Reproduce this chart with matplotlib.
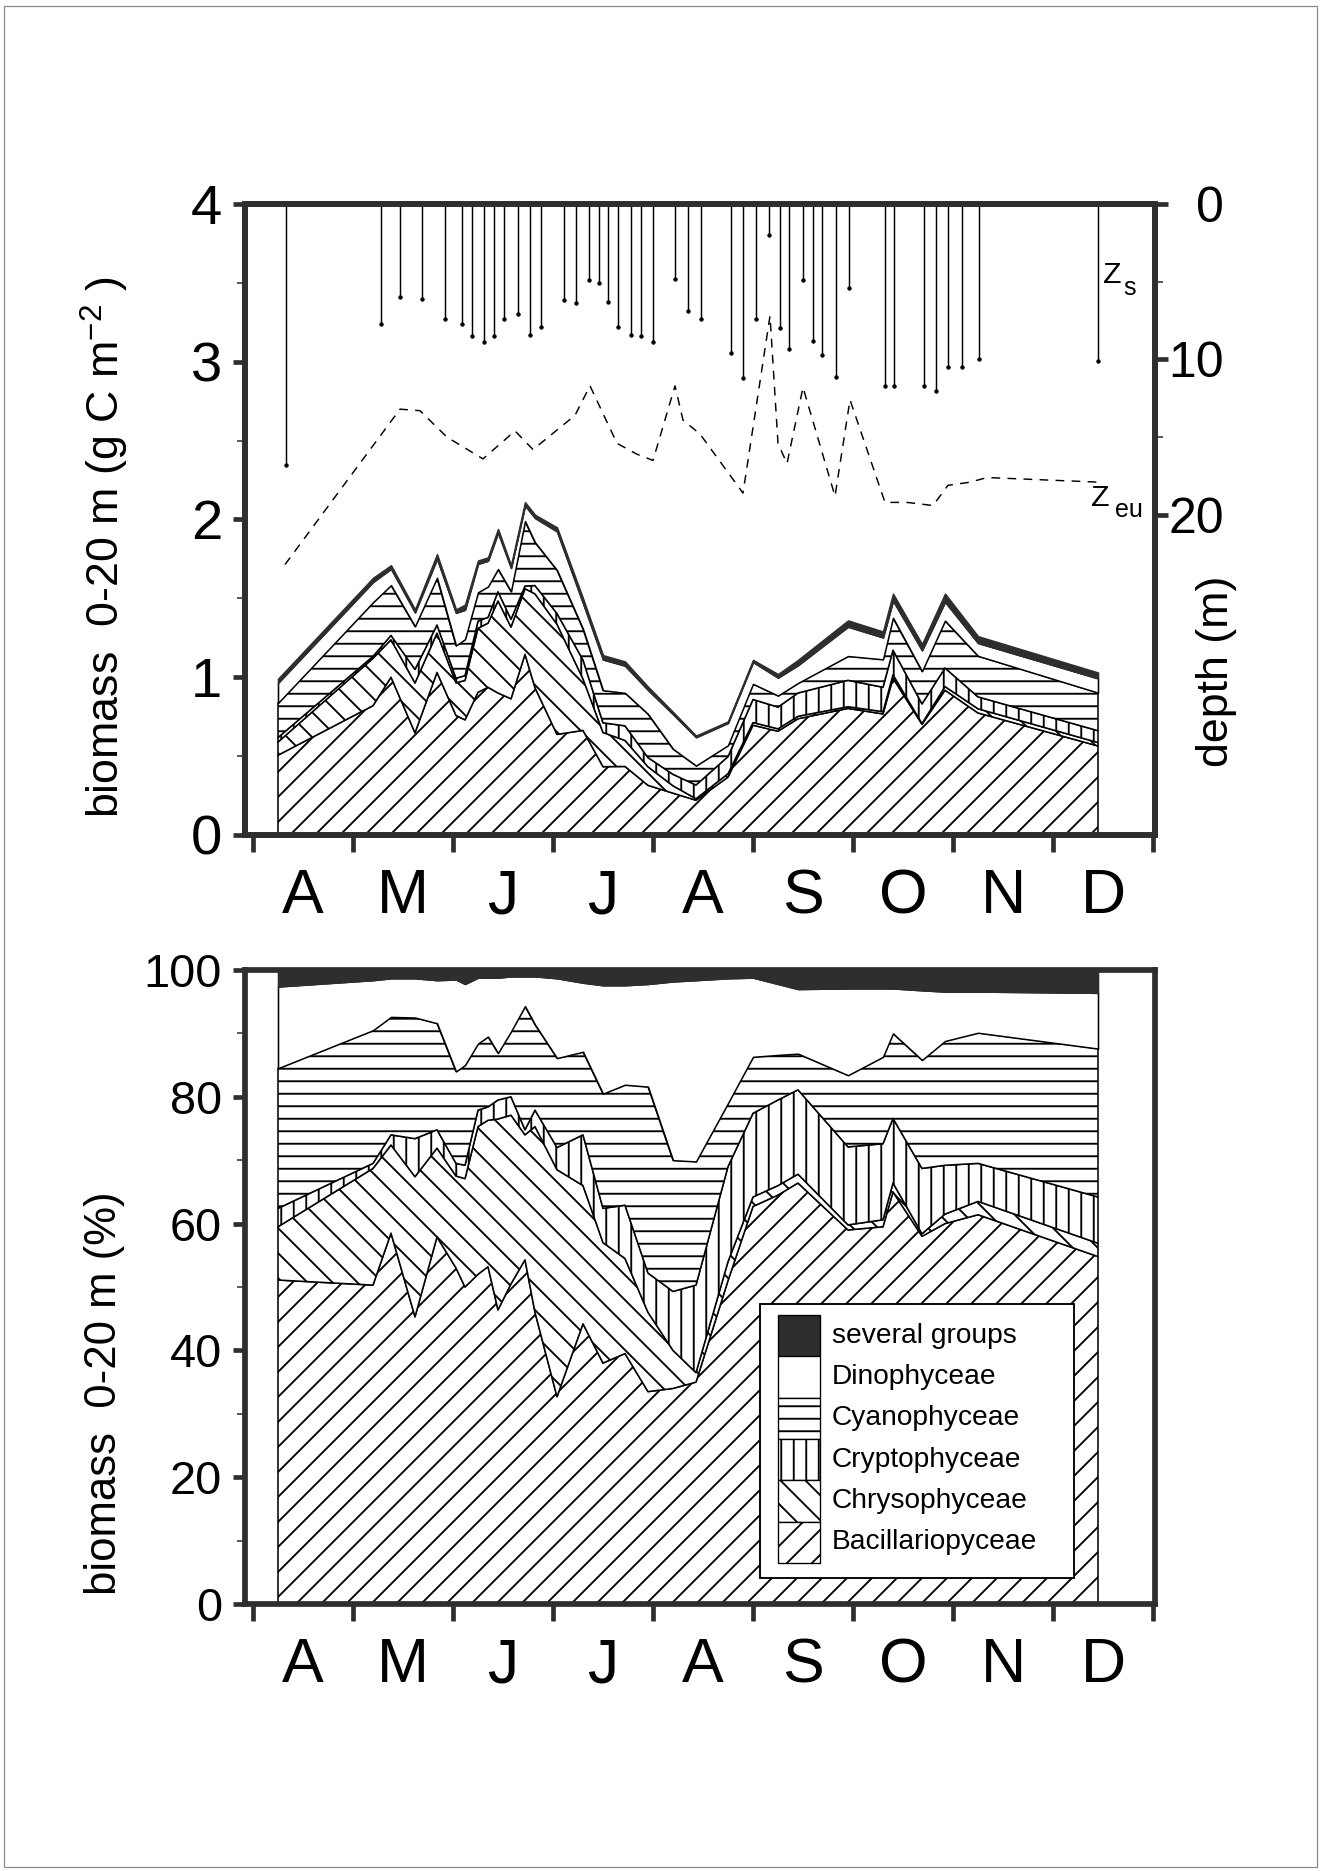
"""Phytoplankton biomass 0-20 m and group composition, April-December."""

import numpy as np
import matplotlib
matplotlib.use("Agg")
import matplotlib.pyplot as plt
from matplotlib.patches import Rectangle

plt.rcParams["font.family"] = ["Liberation Sans", "DejaVu Sans"]
plt.rcParams["mathtext.fontset"] = "custom"
plt.rcParams["mathtext.rm"] = "Liberation Sans"
plt.rcParams["hatch.linewidth"] = 1.8

# x axis: months after 1 April (ticks are the first day of each month)
months = ["A", "M", "J", "J", "A", "S", "O", "N", "D"]

# sampling dates and total biomass (g C m-2, 0-20 m)
dates = [0.25, 1.20, 1.38, 1.62, 1.84, 2.03, 2.12, 2.25, 2.35, 2.45, 2.58,
         2.72, 2.82, 3.04, 3.30, 3.50, 3.72, 3.95, 4.20, 4.43, 4.75, 5.00,
         5.25, 5.45, 5.95, 6.30, 6.40, 6.69, 6.92, 7.25, 8.45]
total_biomass = [0.99, 1.63, 1.71, 1.43, 1.78, 1.43, 1.46, 1.74, 1.76, 1.94,
                 1.71, 2.11, 2.03, 1.95, 1.50, 1.14, 1.10, 0.94, 0.78, 0.63,
                 0.72, 1.11, 1.02, 1.11, 1.36, 1.29, 1.53, 1.21, 1.53, 1.26,
                 1.03]

# share of each group in the biomass (%)
bacillariophyceae = [51.1, 50.3, 58.5, 45.3, 57.9, 53.0, 50.0, 52.0, 53.2,
                     46.4, 50.5, 54.3, 46.0, 32.7, 44.2, 38.0, 39.5, 33.5,
                     34.0, 35.0, 51.0, 62.7, 64.5, 66.4, 59.0, 59.5, 65.0,
                     58.0, 60.0, 61.4, 54.8]
chrysophyceae = [8.4, 18.4, 13.9, 22.1, 14.0, 14.5, 17.1, 23.3, 23.1, 30.1,
                 26.6, 19.7, 29.3, 35.8, 21.8, 19.0, 15.0, 12.5, 6.0, 1.5,
                 3.0, 1.5, 1.5, 1.4, 0.8, 1.1, 1.4, 0.4, 1.5, 2.1, 2.1]
cryptophyceae = [2.9, 0.8, 1.6, 6.0, 2.9, 2.0, 2.1, 2.6, 2.1, 3.0, 2.9, 0.8,
                 2.6, 3.5, 8.0, 5.4, 8.4, 6.2, 9.3, 13.8, 15.0, 13.2, 13.5,
                 13.3, 12.3, 12.0, 10.2, 10.3, 7.7, 6.0, 7.3]
cyanophyceae = [22.1, 21.0, 18.6, 19.1, 16.8, 14.5, 15.8, 10.5, 11.1, 7.4,
                10.3, 19.5, 13.5, 14.1, 13.1, 18.1, 19.0, 29.4, 20.7, 19.5,
                10.0, 8.9, 7.1, 5.7, 11.3, 13.7, 13.4, 17.1, 19.6, 20.6, 23.4]
dinophyceae = [12.9, 7.9, 6.1, 6.2, 6.8, 14.5, 12.8, 10.4, 9.3, 11.9, 8.7,
               4.7, 7.6, 12.6, 10.9, 17.1, 15.7, 16.2, 28.2, 28.6, 19.7, 12.5,
               11.2, 10.2, 13.7, 10.8, 7.1, 11.0, 7.8, 6.5, 8.8]
several_groups = [2.6, 1.6, 1.3, 1.3, 1.6, 1.5, 2.2, 1.2, 1.2, 1.2, 1.0, 1.0,
                  1.0, 1.3, 2.0, 2.4, 2.4, 2.2, 1.8, 1.6, 1.3, 1.2, 2.2, 3.0,
                  2.9, 2.9, 2.9, 3.2, 3.4, 3.4, 3.6]

# Secchi depth z_s (m)
secchi_dates = [0.33, 1.28, 1.47, 1.69, 1.92, 2.09, 2.19, 2.31, 2.41, 2.51,
                2.65, 2.77, 2.88, 3.11, 3.23, 3.36, 3.46, 3.55, 3.65, 3.78,
                3.88, 4.00, 4.22, 4.35, 4.48, 4.78, 4.90, 5.03, 5.16, 5.27,
                5.36, 5.50, 5.60, 5.69, 5.83, 5.96, 6.32, 6.41, 6.71, 6.83,
                6.95, 7.09, 7.26, 8.45]
secchi_depth = [16.8, 7.7, 6.0, 6.1, 7.4, 7.7, 8.5, 8.9, 8.5, 7.4, 7.1, 8.4,
                7.9, 6.2, 6.4, 4.9, 5.1, 6.3, 7.9, 8.4, 8.5, 8.9, 4.8, 6.9,
                7.4, 9.6, 11.2, 7.4, 2.0, 8.0, 9.3, 4.9, 8.8, 9.7, 11.1, 5.4,
                11.7, 11.7, 11.7, 12.0, 10.5, 10.5, 10.0, 10.1]

# euphotic depth z_eu (m)
euphotic_dates = [0.32, 1.47, 1.67, 1.94, 2.30, 2.62, 2.80, 3.22, 3.37, 3.64,
                  3.84, 4.00, 4.22, 4.30, 4.47, 4.90, 5.17, 5.25, 5.34, 5.50,
                  5.82, 5.97, 6.32, 6.54, 6.80, 6.95, 7.17, 7.34, 8.47]
euphotic_depth = [23.2, 13.2, 13.3, 15.0, 16.4, 14.6, 15.8, 13.6, 11.7, 15.4,
                  16.1, 16.5, 11.7, 13.9, 14.8, 18.6, 7.2, 15.4, 16.7, 11.8,
                  18.8, 12.6, 19.2, 19.2, 19.4, 18.1, 17.9, 17.6, 17.9]

group_names = ["Bacillariopyceae", "Chrysophyceae", "Cryptophyceae",
               "Cyanophyceae", "Dinophyceae", "several groups"]
group_pct = [bacillariophyceae, chrysophyceae, cryptophyceae, cyanophyceae,
             dinophyceae, several_groups]
DARK = "#2e2e2e"
fills = [("white", "/"), ("white", "\\"), ("white", "|"), ("white", "-"),
         ("white", None), (DARK, None)]

x = np.array(dates)
cum_pct = np.vstack([np.zeros(len(x)), np.cumsum(np.array(group_pct), axis=0)])
cum_biomass = cum_pct / 100.0 * np.array(total_biomass)

DPI = 75
W, H = 1321, 1871
fig = plt.figure(figsize=(W / DPI, H / DPI), dpi=DPI)
fig.patch.set_facecolor("white")
fig.patches.append(Rectangle((0.003, 0.002), 0.994, 0.995, transform=fig.transFigure,
                             fill=False, edgecolor="#8a8a8a", linewidth=1.2))

ax1 = fig.add_axes([245 / W, 1 - 835 / H, 910 / W, 631 / H])
ax3 = fig.add_axes([245 / W, 1 - 1604 / H, 910 / W, 634 / H])


def draw_stack(ax, cum):
    for i, (fc, hatch) in enumerate(fills):
        ec = DARK if fc == DARK else "black"
        ax.fill_between(x, cum[i], cum[i + 1], facecolor=fc, edgecolor=ec,
                        hatch=hatch, linewidth=1.5, zorder=2 + i * 0.01)


draw_stack(ax1, cum_biomass)
draw_stack(ax3, cum_pct)

for ax, ysize in ((ax1, 54), (ax3, 45)):
    ax.set_xlim(-0.08, 9.02)
    ax.set_xticks(range(10))
    ax.set_xticklabels([])
    ax.set_xticks(np.arange(9) + 0.5, minor=True)
    ax.set_xticklabels(months, minor=True, fontsize=60)
    ax.tick_params(axis="x", which="major", direction="out", length=16,
                   width=4.5, color=DARK)
    ax.tick_params(axis="x", which="minor", length=0, pad=31)
    ax.tick_params(axis="y", which="major", direction="out", length=12,
                   width=4.5, color=DARK, labelsize=ysize, pad=10)
    ax.tick_params(axis="y", which="minor", direction="out", length=8,
                   width=1.5, color=DARK)
    for s in ax.spines.values():
        s.set_linewidth(5.5)
        s.set_color(DARK)

# top panel: biomass plus light depths on a second axis
ax1.set_ylim(0, 4)
ax1.set_yticks(range(5))
ax1.set_yticks(np.arange(0.5, 4, 1.0), minor=True)
ax1.set_ylabel("biomass  0-20 m (g C m$^{-2}$ )", fontsize=43)
ax1.yaxis.set_label_coords(-0.125, 0.456)

ax2 = ax1.twinx()
ax2.set_ylim(40.6, 0)
ax2.set_yticks([0, 10, 20])
ax2.set_yticks([5, 15], minor=True)
ax2.tick_params(axis="y", which="major", direction="out", length=12, width=4.5,
                color=DARK, labelsize=48, pad=54)
ax2.tick_params(axis="y", which="minor", direction="out", length=8, width=1.5,
                color=DARK)
for lab in ax2.get_yticklabels():
    lab.set_horizontalalignment("right")
for s in ax2.spines.values():
    s.set_linewidth(5.5)
    s.set_color(DARK)
ax2.set_ylabel("depth (m)", fontsize=43)
ax2.yaxis.set_label_coords(1.045, 0.26)

ax2.vlines(secchi_dates, 0, secchi_depth, colors="black", linewidth=1.4)
ax2.plot(secchi_dates, secchi_depth, "o", color="black", markersize=3.2)
ax2.plot(euphotic_dates, euphotic_depth, color="black", linewidth=1.4,
         dashes=(6, 5))
ax2.text(8.50, 4.6, "Z", fontsize=29, ha="left", va="center")
ax2.text(8.70, 5.4, "s", fontsize=24, ha="left", va="center")
ax2.text(8.38, 18.9, "Z", fontsize=29, ha="left", va="center")
ax2.text(8.62, 19.7, "eu", fontsize=24, ha="left", va="center")

# bottom panel: composition in percent
ax3.set_ylim(0, 100)
ax3.set_yticks(range(0, 101, 20))
ax3.set_yticks(range(10, 100, 20), minor=True)
ax3.set_ylabel("biomass  0-20 m (%)", fontsize=42)
ax3.yaxis.set_label_coords(-0.132, 0.333)

# legend: a column of touching swatches inside a framed box
ax3.add_patch(Rectangle((0.566, 0.041), 0.345, 0.432, transform=ax3.transAxes,
                        facecolor="white", edgecolor="black", linewidth=1.8,
                        zorder=5))
row_h = 0.0652
for k, i in enumerate(range(len(group_names) - 1, -1, -1)):
    fc, hatch = fills[i]
    y0 = 0.456 - (k + 1) * row_h
    ax3.add_patch(Rectangle((0.586, y0), 0.046, row_h, transform=ax3.transAxes,
                            facecolor=fc, edgecolor="black", hatch=hatch,
                            linewidth=1.3, zorder=6))
    ax3.text(0.645, y0 + row_h / 2, group_names[i], transform=ax3.transAxes,
             fontsize=27, ha="left", va="center", zorder=7)

fig.savefig("out.png", dpi=DPI, facecolor="white")
